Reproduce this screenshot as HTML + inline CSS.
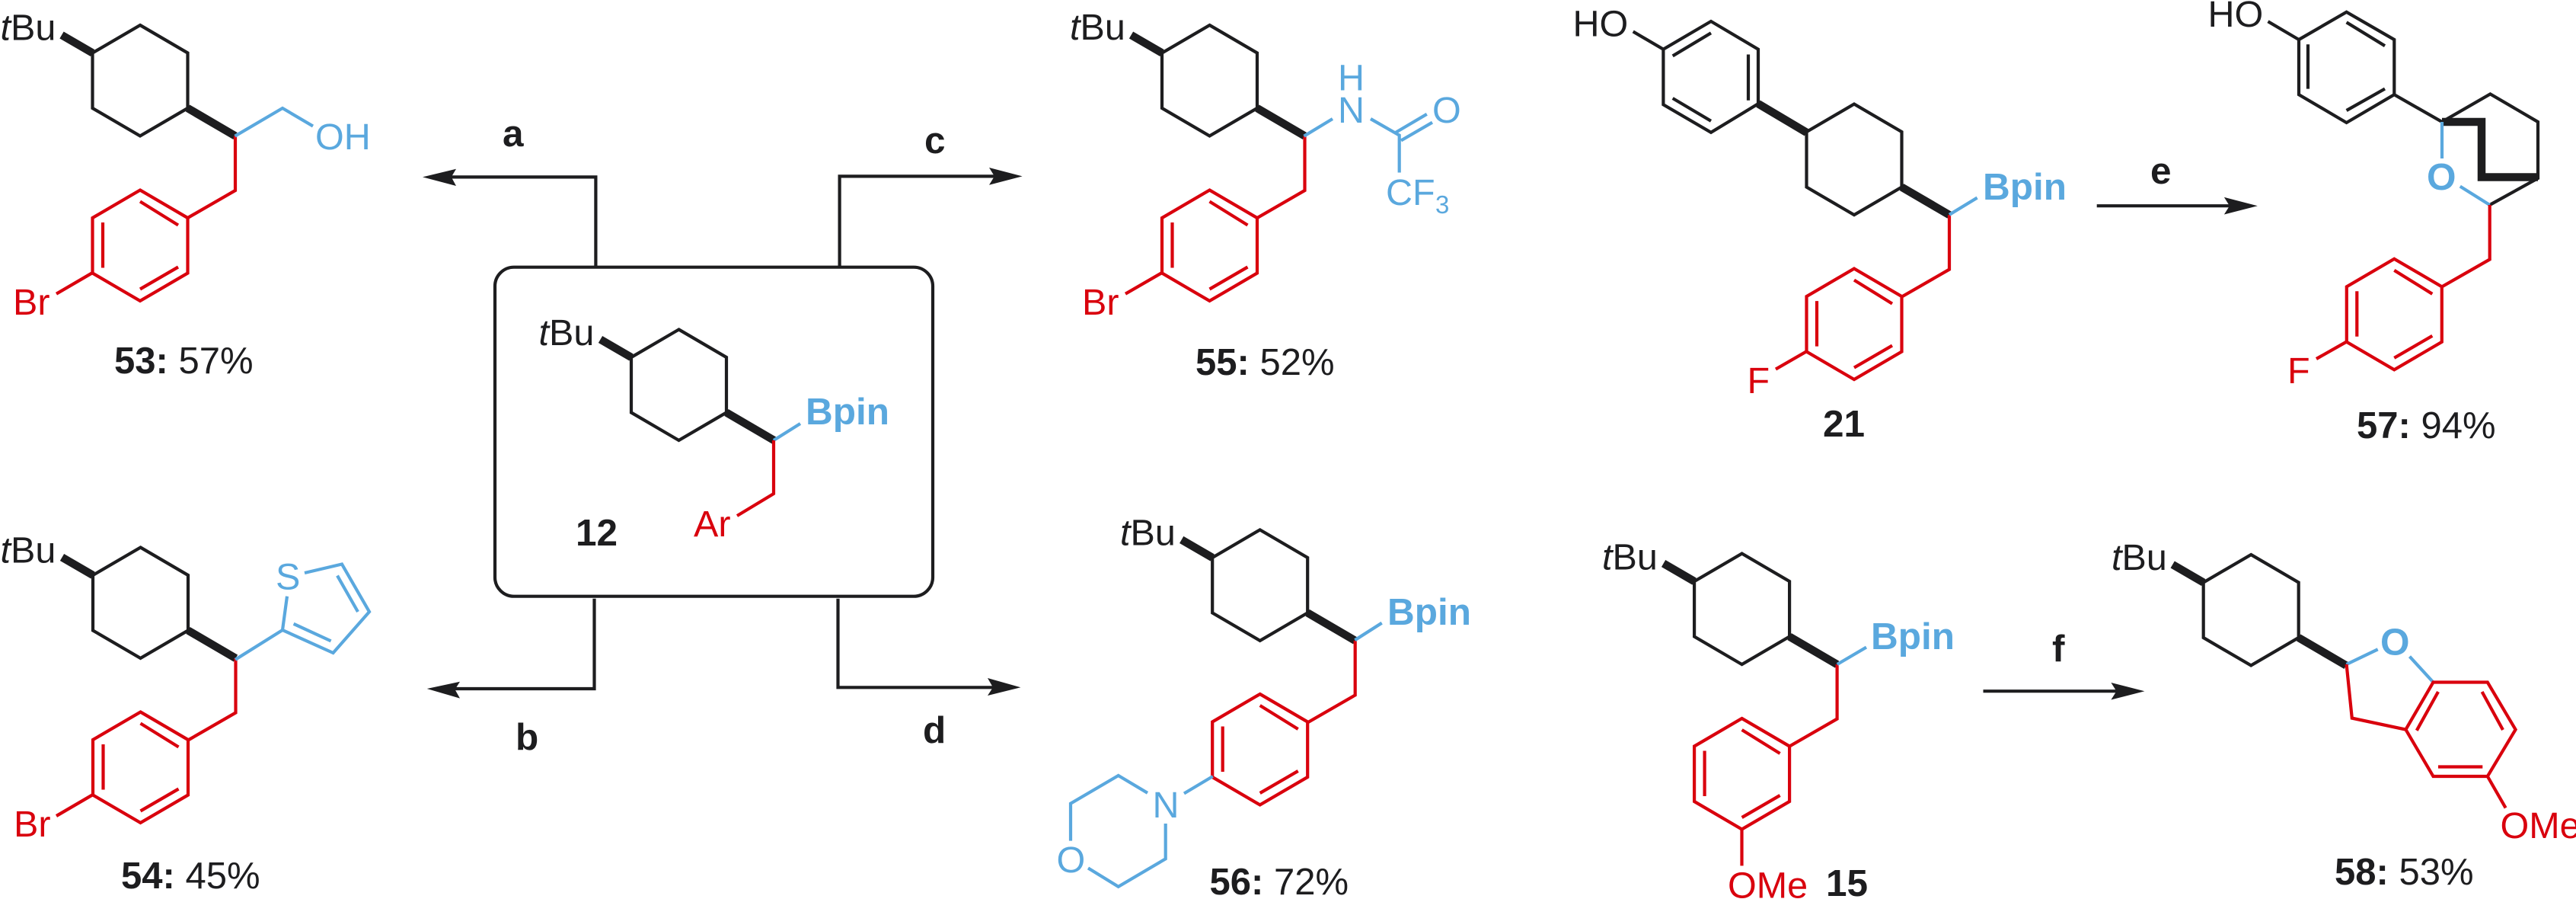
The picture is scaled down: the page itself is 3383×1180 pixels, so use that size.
<!DOCTYPE html>
<html lang="en">
<head>
<meta charset="utf-8">
<title>Reaction scheme</title>
<style>
html,body{margin:0;padding:0;background:#fff;width:3383px;height:1180px;overflow:hidden}
svg{display:block}
text{font-family:"Liberation Sans",Arial,sans-serif;font-size:48.5px}
text.b{font-size:49.5px}
text.c{font-size:49px}
.k{fill:#1d1d1f}.r{fill:#d9000d}.u{fill:#5aa8de}
.b{font-weight:bold}
.lk{fill:none;stroke:#1d1d1f;stroke-width:4.2}
.lr{fill:none;stroke:#d9000d;stroke-width:4.2}
.lu{fill:none;stroke:#5aa8de;stroke-width:4.2}
.bd{fill:none;stroke:#1d1d1f;stroke-width:10.5}
.ar{fill:none;stroke:#1d1d1f;stroke-width:4.2}
</style>
</head>
<body>
<svg xmlns="http://www.w3.org/2000/svg" width="3383" height="1180" viewBox="0 0 3383 1180">
<defs>
  <g id="cy">
    <path class="lk" d="M0,0L62.5,36.5V109L0,145.5L-62.5,109V36.5Z"/>
    <path class="bd" d="M62.5,109L125,145.5"/>
  </g>
  <path id="we" class="bd" d="M-62.5,36.5L-103,13"/>
  <path id="ch" class="lr" d="M125,145.5V217L62.5,253"/>
  <path id="ary" class="lr" d="M0,0L62.5,36.5V109L0,145.5L-62.5,109V36.5ZM-49,42.5V102M0,15L50,46M0,130L50,101"/>
</defs>

<!-- Central box 12 -->
<rect x="650" y="350.7" width="575" height="432" rx="25" ry="25" fill="none" stroke="#1d1d1f" stroke-width="4.2"/>
<use href="#cy" x="891.5" y="432.5"/><use href="#we" x="891.5" y="432.5"/>
<path class="lu" d="M1016,578L1051,556"/>
<path class="lr" d="M1016,578V648L968,677"/>
<text class="k" x="707.5" y="453"><tspan font-style="italic">t</tspan>Bu</text>
<text class="u b" x="1058" y="557">Bpin</text>
<text class="r" x="911" y="704">Ar</text>
<text class="k b" x="756" y="716">12</text>

<!-- Arrows from box -->
<path class="ar" d="M782.4,350V232.4H592"/>
<path class="k" d="M555,232.4L599,221.7L592.7,232.4L599,244Z"/>
<text class="k b" x="660" y="192">a</text>
<path class="ar" d="M1102.6,350V231.4H1306"/>
<path class="k" d="M1342.6,231.4L1299,220L1306,231.4L1299,242.7Z"/>
<text class="k b" x="1214" y="201">c</text>
<path class="ar" d="M780.5,785.7V904H597"/>
<path class="k" d="M560.7,904L604,894.8L597.5,905L604,916.6Z"/>
<text class="k b" x="677" y="984">b</text>
<path class="ar" d="M1100.5,785.7V902.3H1304"/>
<path class="k" d="M1340.4,902.3L1297,890L1304,902.3L1297,913Z"/>
<text class="k b" x="1212" y="975">d</text>

<!-- 53 -->
<use href="#cy" x="184" y="33"/><use href="#we" x="184" y="33"/>
<use href="#ch" x="184" y="33"/><use href="#ary" x="184" y="249.5"/>
<path class="lu" d="M308.5,178.7L371,142L411,165.6"/>
<path class="lr" d="M121.5,358L74,385.7"/>
<text class="k" x="0.5" y="52.5"><tspan font-style="italic">t</tspan>Bu</text>
<text class="u" x="414" y="196">OH</text>
<text class="r" x="17" y="413">Br</text>
<text class="k c" x="150" y="490"><tspan class="b">53:</tspan> 57%</text>

<!-- 54 -->
<use href="#cy" x="184.5" y="718.5"/><use href="#we" x="184.5" y="718.5"/>
<use href="#ch" x="184.5" y="718.5"/><use href="#ary" x="184.5" y="934.5"/>
<path class="lu" d="M309,865.8L371,827L377,782.7M371,827L437.5,857L485,803L449,740.5L400,752M385.6,818.8L434.6,841.4M443,755.6L470,803"/>
<path class="lr" d="M122,1043L74,1071"/>
<text class="k" x="0.5" y="738.5"><tspan font-style="italic">t</tspan>Bu</text>
<text class="u" x="362" y="773.5">S</text>
<text class="r" x="18" y="1098">Br</text>
<text class="k c" x="159" y="1166"><tspan class="b">54:</tspan> 45%</text>

<!-- 55 -->
<use href="#cy" x="1588.5" y="33"/><use href="#we" x="1588.5" y="33"/>
<use href="#ch" x="1588.5" y="33"/><use href="#ary" x="1588.5" y="249.5"/>
<path class="lu" d="M1712.5,178.7L1750,156M1800,156L1837.7,177.6V226.5M1832.7,174L1873.8,149.8M1840,184.4L1881,160.7"/>
<path class="lr" d="M1526,358L1478,385.7"/>
<text class="k" x="1405" y="52"><tspan font-style="italic">t</tspan>Bu</text>
<text class="u" x="1757" y="118.5">H</text>
<text class="u" x="1757" y="161">N</text>
<text class="u" x="1881" y="161">O</text>
<text class="u" x="1820" y="269">CF</text>
<text class="u" x="1885" y="280" style="font-size:33px">3</text>
<text class="r" x="1421" y="413">Br</text>
<text class="k c" x="1570" y="492"><tspan class="b">55:</tspan> 52%</text>

<!-- 56 -->
<use href="#cy" x="1654.7" y="695.4"/><use href="#we" x="1654.7" y="695.4"/>
<use href="#ch" x="1654.7" y="695.4"/><use href="#ary" x="1654.7" y="911"/>
<path class="lu" d="M1779.4,840.2L1814.7,817.7M1592.7,1019L1555,1041.5M1507,1040.8L1468.7,1018L1406,1054.7V1103.6M1429,1139.4L1468.7,1163.8L1530.7,1127.3V1081"/>
<text class="k" x="1471" y="715.5"><tspan font-style="italic">t</tspan>Bu</text>
<text class="u b" x="1822" y="820">Bpin</text>
<text class="u" x="1513.5" y="1073">N</text>
<text class="u" x="1387.5" y="1145">O</text>
<text class="k c" x="1588.5" y="1174"><tspan class="b">56:</tspan> 72%</text>

<!-- 21 -->
<path class="lk" d="M2184.4,64.7L2247,28L2309,64.7V136.2L2247,173.8L2184.4,137.3ZM2196.7,73.4L2247,43.3M2196.7,129L2247,158.8M2296,71.5V131.7M2184.4,64.7L2144.7,41.4"/>
<path class="bd" d="M2372.4,173.8L2309,136.2"/>
<use href="#cy" x="2435" y="136.6"/>
<use href="#ch" x="2435" y="136.6"/><use href="#ary" x="2435" y="352.6"/>
<path class="lu" d="M2560,281.8L2596.6,259.6"/>
<path class="lr" d="M2372.4,461.3L2332,484.6"/>
<text class="k" x="2065.5" y="47.5">HO</text>
<text class="u b" x="2604" y="262">Bpin</text>
<text class="r" x="2294.5" y="516">F</text>
<text class="k b" x="2394" y="573">21</text>

<!-- arrow e -->
<path class="ar" d="M2753.7,270.2H2928"/>
<path class="k" d="M2964.8,270.2L2920.9,258.9L2928,270.2L2920.9,281.5Z"/>
<text class="k b" x="2824" y="241">e</text>

<!-- 57 -->
<path class="lk" d="M3019,52L3081.6,15.8L3144.3,52V124.2L3081.6,161L3019,124.2ZM3081.6,29.3L3132,60.2M3031,58.3V116.6M3081.6,145L3132,116.6M3019,52L2978.5,28.2M3144.3,124.2L3207,160L3270.4,123.4L3333,160V234L3269.7,269"/>
<path class="bd" d="M3207,160H3259V232.5H3333"/>
<path class="lu" d="M3207,160V208M3230.8,244.6L3269.7,269"/>
<path class="lr" d="M3269.7,269V340.5L3207,376.3"/>
<use href="#ary" x="3144.3" y="339.8"/>
<path class="lr" d="M3081.8,448.5L3042,471"/>
<text class="k" x="2899.5" y="35">HO</text>
<text class="u b" x="3187" y="249">O</text>
<text class="r" x="3004" y="503">F</text>
<text class="k c" x="3095" y="575"><tspan class="b">57:</tspan> 94%</text>

<!-- 15 -->
<use href="#cy" x="2287.6" y="726.6"/><use href="#we" x="2287.6" y="726.6"/>
<use href="#ch" x="2287.6" y="726.6"/><use href="#ary" x="2287.6" y="943"/>
<path class="lu" d="M2412.8,872L2451,849.6"/>
<path class="lr" d="M2287.5,1088.6V1136.4"/>
<text class="k" x="2104" y="747.5"><tspan font-style="italic">t</tspan>Bu</text>
<text class="u b" x="2457" y="852">Bpin</text>
<text class="r" x="2269" y="1178.5">OMe</text>
<text class="k b" x="2398" y="1176">15</text>

<!-- arrow f -->
<path class="ar" d="M2604.5,907.2H2780"/>
<path class="k" d="M2816.4,907.2L2772.4,896L2779.5,907.2L2772.4,918.5Z"/>
<text class="k b" x="2695" y="868">f</text>

<!-- 58 -->
<use href="#cy" x="2956.2" y="728"/><use href="#we" x="2956.2" y="728"/>
<path class="lu" d="M3081.6,872L3122.7,852.3M3164.5,861.7L3195.5,895.5"/>
<path class="lr" d="M3081.6,872L3088.8,942.6L3159.4,957.6L3195.5,895.5H3266.8L3303.6,957.6L3266.8,1019H3195.5L3159.4,957.6M3202,908L3173.8,958.8M3259.6,908L3287,958M3202,1006.5H3260.3M3266.8,1019L3290.6,1060.4"/>
<text class="k" x="2773" y="748"><tspan font-style="italic">t</tspan>Bu</text>
<text class="u b" x="3126" y="859.5">O</text>
<text class="r" x="3283.5" y="1100">OMe</text>
<text class="k c" x="3066" y="1161"><tspan class="b">58:</tspan> 53%</text>
</svg>
</body>
</html>
